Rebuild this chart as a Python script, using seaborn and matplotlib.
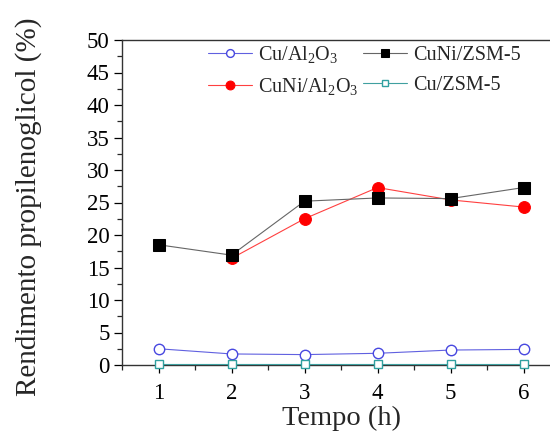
import matplotlib
matplotlib.use("Agg")
import matplotlib.pyplot as plt
import seaborn as sns
import pandas as pd
from matplotlib.ticker import MultipleLocator

tempo = [1, 2, 3, 4, 5, 6]
cu_al2o3 = [2.5, 1.7, 1.6, 1.8, 2.3, 2.4]
cuni_al2o3 = [None, 16.4, 22.5, 27.3, 25.4, 24.3]
cuni_zsm5 = [18.5, 16.9, 25.2, 25.7, 25.6, 27.3]
cu_zsm5 = [0.2, 0.2, 0.2, 0.2, 0.2, 0.2]
labels = ["Cu/Al$_2$O$_3$", "CuNi/Al$_2$O$_3$", "CuNi/ZSM-5", "Cu/ZSM-5"]

sns.set_style("ticks")
plt.rcParams["font.family"] = ["Liberation Serif", "DejaVu Serif"]
plt.rcParams["mathtext.fontset"] = "custom"
plt.rcParams["mathtext.rm"] = "Liberation Serif"
plt.rcParams["mathtext.it"] = "Liberation Serif:italic"

fig = plt.figure(figsize=(5.5, 4.33), dpi=100)
W, H = 550, 433
x0, x1 = 122, 122 + 6 * 73
y_top, y_bot = 40, 365
ax = fig.add_axes([x0 / W, 1 - y_bot / H, (x1 - x0) / W, (y_bot - y_top) / H])

series = [
    (cu_al2o3, labels[0], dict(color="#6060e0", marker="o", markerfacecolor="white",
                               markeredgecolor="#4848e0", markersize=7.5, markeredgewidth=1.0)),
    (cuni_al2o3, labels[1], dict(color="#ff4040", marker="o", markerfacecolor="red",
                                 markeredgecolor="red", markersize=8.5)),
    (cuni_zsm5, labels[2], dict(color="#666666", marker="s", markerfacecolor="black",
                                markeredgecolor="black", markersize=8)),
    (cu_zsm5, labels[3], dict(color="#40a0a0", marker="s", markerfacecolor="white",
                              markeredgecolor="#30a0a0", markersize=5.5, markeredgewidth=1.0)),
]
for vals, lab, kw in series:
    df = pd.DataFrame({"t": tempo, "y": vals}).dropna()
    sns.lineplot(data=df, x="t", y="y", ax=ax, label=lab, linewidth=0.8,
                 clip_on=False, zorder=3, **kw)

ax.set_xlim(0.5, 6.5)
ax.set_ylim(0, 50)
ax.xaxis.set_major_locator(MultipleLocator(1))
ax.xaxis.set_minor_locator(MultipleLocator(0.5))
ax.yaxis.set_major_locator(MultipleLocator(5))
ax.yaxis.set_minor_locator(MultipleLocator(2.5))
ax.tick_params(which="major", direction="out", length=6, width=0.9, labelsize=16.5,
               colors="black", pad=3)
ax.tick_params(axis="x", which="major", pad=7)
ax.tick_params(which="minor", direction="out", length=3.5, width=0.9)
for s in ax.spines.values():
    s.set_linewidth(1.0)
    s.set_color("#333333")
ax.set_xlabel("Tempo (h)", fontsize=20.5, labelpad=1.5)
ax.set_ylabel("Rendimento propilenoglicol (%)", fontsize=21)
ax.yaxis.set_label_coords((42 - x0) / (x1 - x0), (y_bot - 207) / (y_bot - y_top))

h, l = ax.get_legend_handles_labels()
ax.legend(h, l, ncol=2, frameon=False, fontsize=14.5, loc="upper left",
          bbox_to_anchor=((200 - x0) / (x1 - x0), 1.012), columnspacing=0.2,
          handlelength=2.2, handletextpad=0.3, labelspacing=0.55, borderaxespad=0,
          markerscale=0.75)

fig.savefig("out.png", dpi=100)
